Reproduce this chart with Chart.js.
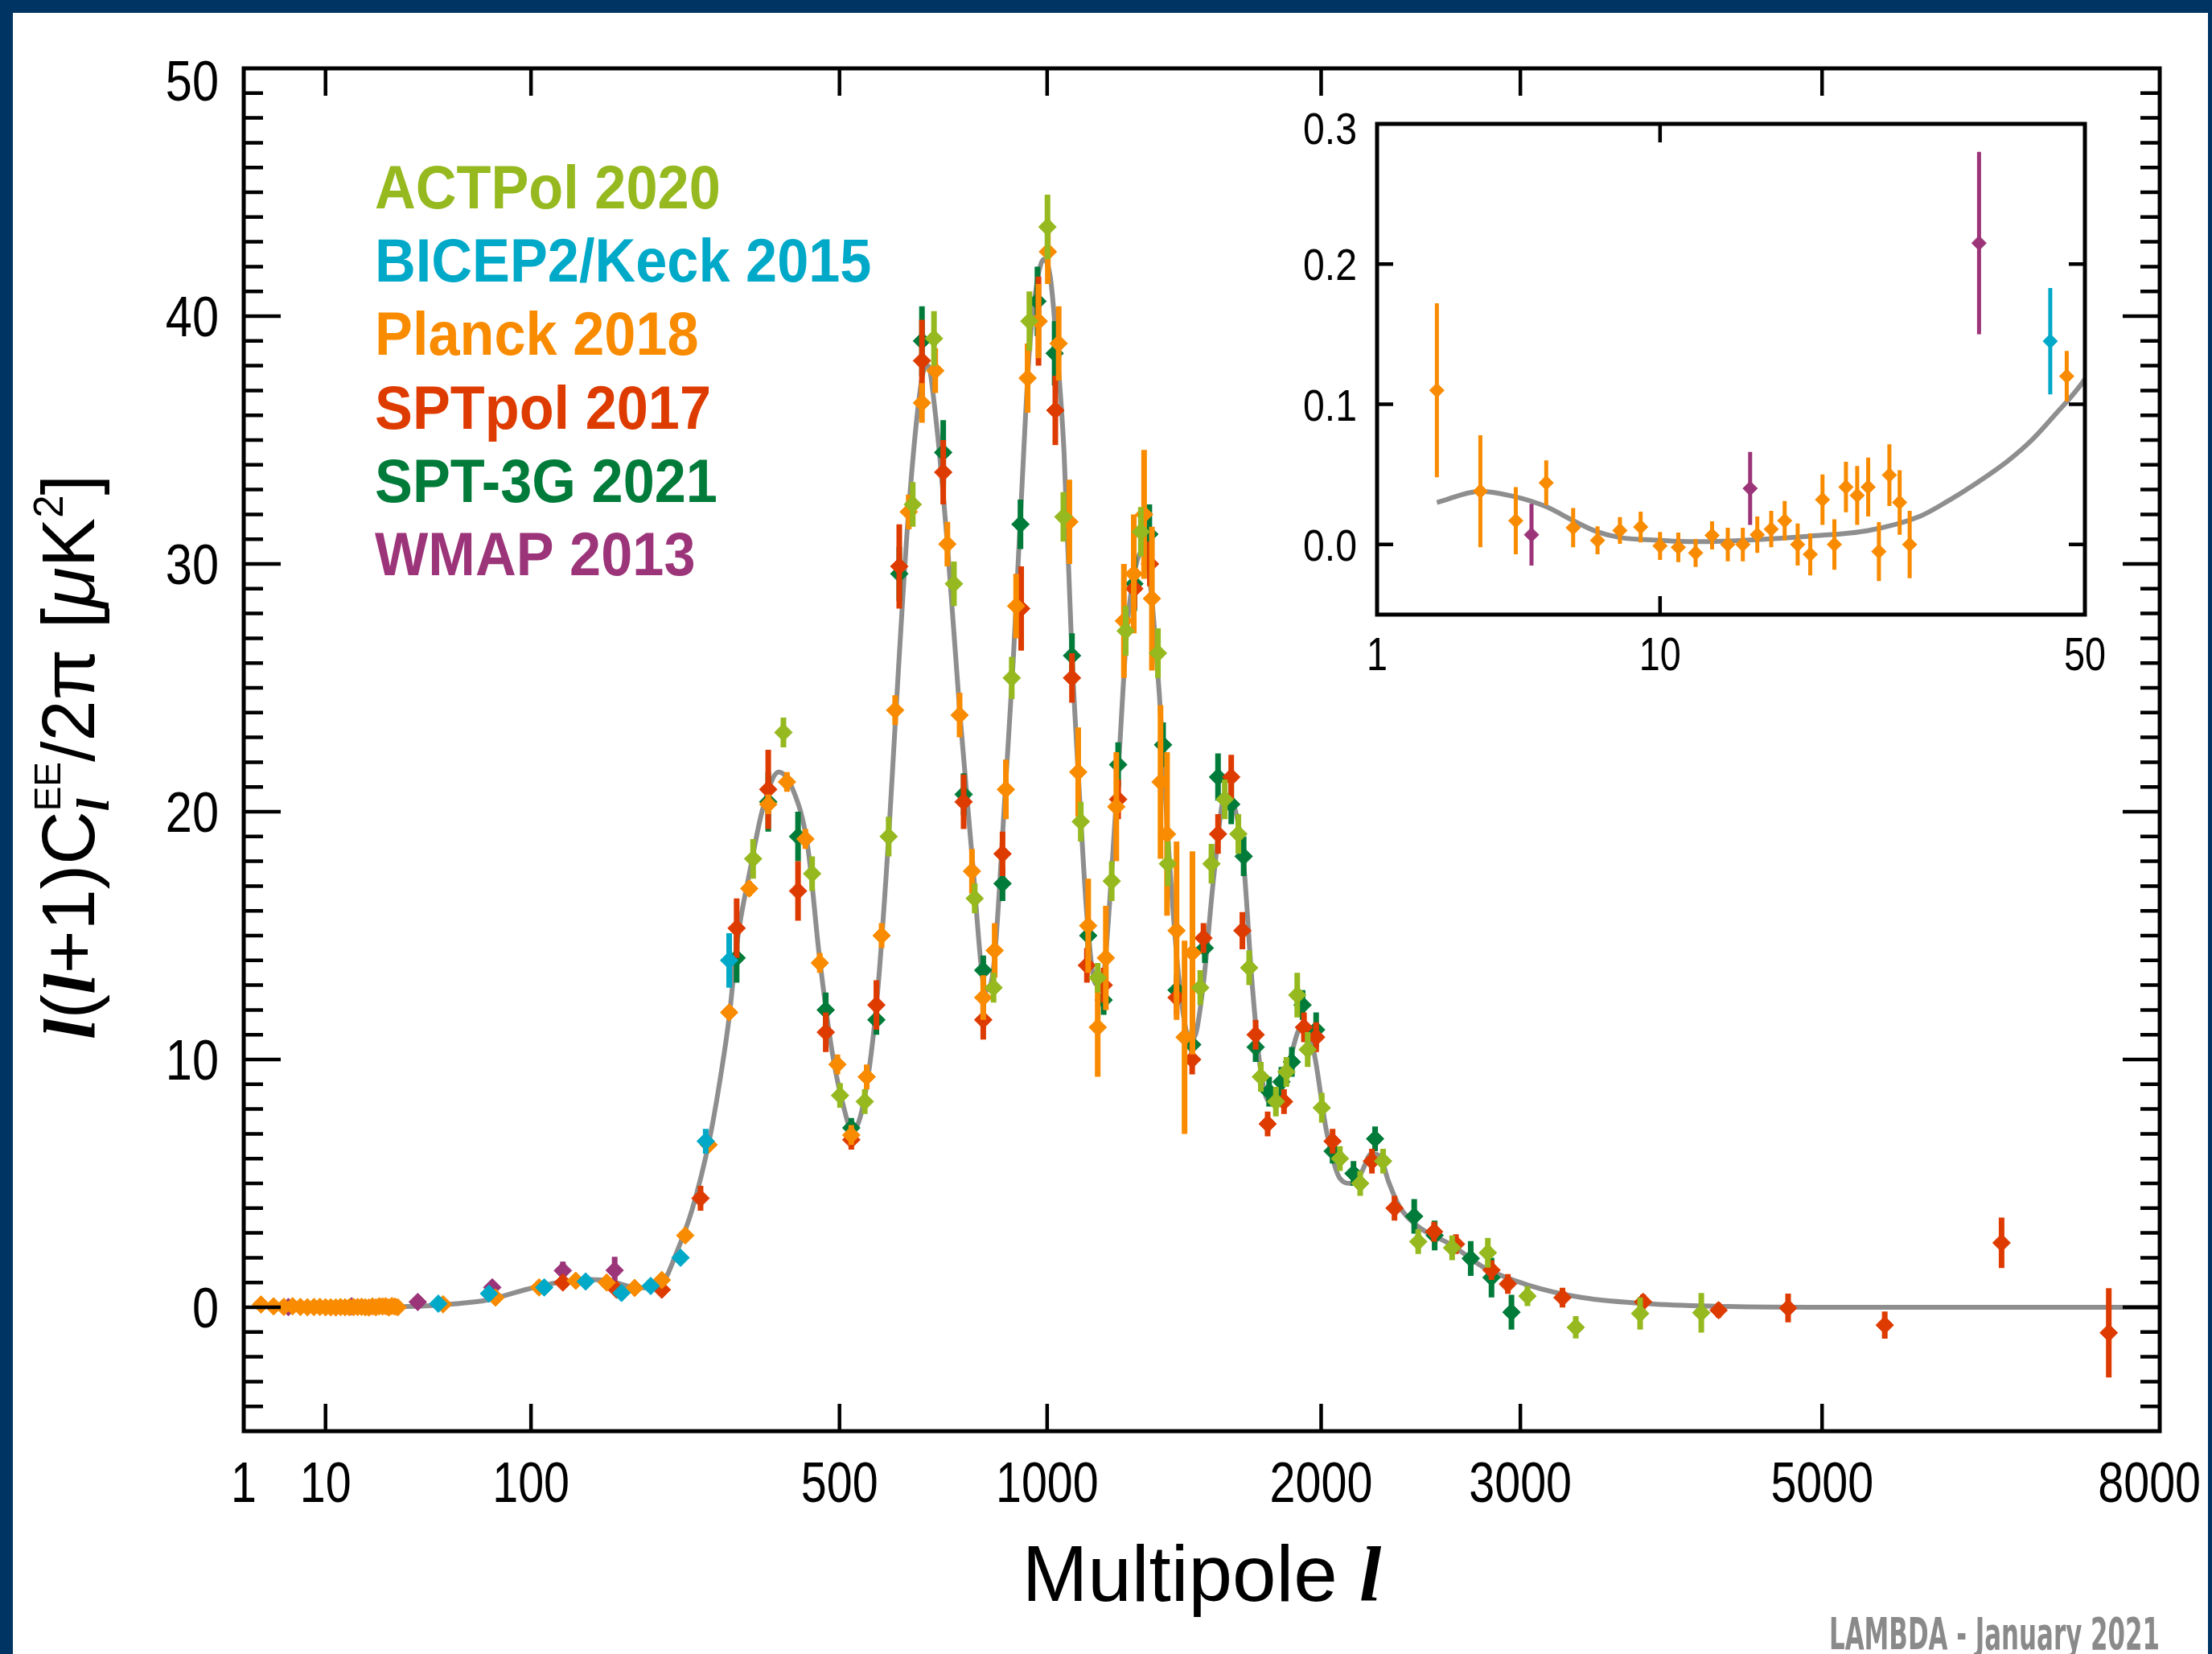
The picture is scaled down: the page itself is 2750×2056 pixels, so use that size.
<!DOCTYPE html>
<html>
<head>
<meta charset="utf-8">
<title>CMB EE power spectrum</title>
<script src="https://cdn.jsdelivr.net/npm/chart.js@4.4.1/dist/chart.umd.min.js"></script>
<style>
  html, body { margin: 0; padding: 0; background: #003462; overflow: hidden; }
  #sheet { position: absolute; left: 16px; top: 16px; width: 2729px; height: 2040px; background: #fff; }
  #mainCanvas { position: absolute; left: 0; top: 0; }
  #insetCanvas { position: absolute; left: 1560px; top: 100px; }
</style>
</head>
<body>
<div id="sheet"></div>
<canvas id="mainCanvas" width="2750" height="2056"></canvas>
<canvas id="insetCanvas" width="1100" height="780"></canvas>
<script>
// values (multipole l, D_l in uK^2, 1-sigma error)

const theoryL = [2,3,4,5,6,7,8,10,12,15,20,25,30,33,36,40,43,46,50,71,98,130,150,169,194,212,230,238,263,286,303,314,326,
  345,365,391,415,441,462,486,509,525,550,576,600,614,644,674,688,705,734,764,798,822,835,853,882,904,926,949,970,990,1010,
  1026,1050,1074,1099,1120,1145,1160,1175,1192,1223,1250,1275,1300,1327,1360,1392,1431,1470,1490,1520,
  1560,1601,1630,1675,1707,1740,1778,1810,1850,1919,1966,2024,2084,2134,2180,2230,2270,2310,2362,2450,
  2630,2800,3042,3355,3809,4314,5000,6000,7000,8000];
const theoryD = [0.030,0.038,0.034,0.027,0.017,0.009,0.005,0.003,0.002,0.003,0.006,0.010,0.020,0.031,0.043,0.060,0.075,0.093,0.118,0.29,0.74,1.07,1.12,
  1.05,0.8,0.78,1.2,1.8,3.96,6.75,9.55,11.7,14.8,17.6,20.1,21.6,20.9,18.6,14.2,10.3,8.0,7.1,8.5,
  12.6,19.0,23.5,32.2,37.5,38.0,36.1,30.8,24.1,17.7,13.3,12.8,14.0,20.8,26.1,32.5,38.6,41.3,42.3,41.5,
  39.1,34.5,26.3,20.2,15.8,13.1,13.0,13.6,16.3,22.2,27.5,29.7,30.5,29.3,24.7,18.6,13.1,10.8,11.0,13.1,
  17.5,20.6,20.4,17.9,13.3,9.8,8.3,8.4,9.5,11.4,10.4,7.1,5.2,5.0,5.4,6.2,6.1,5.1,4.1,3.3,
  2.5,1.6,0.9,0.4,0.13,0.03,0.0,0.0,0.0,0.0];

const planckL = [2,3,4,5,6,7,8,9,10,11,12,13,14,15,16,17,18,19,20,21,22,23,24,25,26,27,28,29,
  47.5,76,106,136,165,194,225,254,285,314,344,374,405,437,463,496,523,554,585,614,
  644,674,705,734,764,795,824,854,884,912,944,975,1002,1034,1066,1093,1124,1154,1180,1214,
  1239,1272,1307,1334,1364,1387,1421,1450,1479];
const planckD = [0.110,0.038,0.017,0.044,0.012,0.003,0.010,0.0125,-0.001,-0.002,-0.006,0.0065,0.000,0.000,0.007,0.011,0.017,0.000,-0.007,0.032,
  0.000,0.041,0.035,0.041,-0.005,0.0495,0.030,0.000,
  0.120,0.39,0.80,1.07,1.0,0.78,1.1,2.9,6.56,11.9,16.9,20.3,21.2,18.9,13.9,9.8,6.95,9.3,15.0,24.1,
  32.1,36.5,37.8,30.8,23.9,17.6,12.5,14.4,20.9,28.3,37.5,39.8,42.6,38.9,31.7,21.6,15.4,11.3,14.1,20.2,
  27.7,29.6,32.0,28.6,21.2,19.1,15.2,10.9,14.3];
const planckErr = [0.062,0.040,0.024,0.016,0.014,0.010,0.0095,0.011,0.010,0.0105,0.010,0.010,0.012,0.012,0.013,0.013,0.014,0.015,0.015,0.018,
  0.018,0.018,0.021,0.021,0.021,0.022,0.023,0.024,
  0.018,0.05,0.05,0.06,0.06,0.06,0.07,0.1,0.15,0.2,0.3,0.4,0.4,0.4,0.4,0.4,0.4,0.5,0.5,0.6,
  0.7,0.8,0.9,0.9,0.9,0.9,0.9,1.1,1.2,1.3,1.4,1.5,1.3,1.5,1.7,1.8,1.9,2.0,2.1,2.2,
  2.3,2.4,2.6,2.9,3.1,3.3,3.6,3.9,4.1];

const actL = [350,399,449,501,550,600,653,702,750,802,851,900,949,1001,1048,1101,1154,1199,1245,1296,
  1355,1390,1508,1550,1601,1654,1697,1744,1806,1850,1896,1941,2003,2084,2177,2285,2457,2630,2820,3040,
  3322,3721,4126];
const actD = [18.1,23.2,17.5,8.55,8.3,19.0,32.4,39.1,29.2,16.5,12.9,25.4,39.8,43.6,31.9,19.6,13.3,17.2,27.3,31.3,
  26.4,17.9,12.9,17.9,20.5,19.1,13.7,9.3,8.3,9.5,12.6,10.4,8.05,6.0,5.0,5.9,2.65,2.4,2.2,0.45,
  -0.81,-0.25,-0.22];
const actErr = [0.8,0.6,0.7,0.5,0.5,0.8,0.9,1.1,0.9,0.6,0.6,0.85,1.2,1.3,1.0,0.8,0.6,0.8,1.0,1.0,
  1.0,0.9,0.7,0.8,0.8,0.8,0.7,0.6,0.6,0.6,0.9,0.7,0.6,0.5,0.5,0.5,0.5,0.5,0.6,0.4,
  0.45,0.65,0.8];

const sptpolL = [125,175,225,274,325,374,424,474,523,574,623,674,724,774,824,875,926,975,1024,1074,
  1120,1173,1220,1274,1327,1421,1478,1520,1575,1626,1670,1723,1772,1840,1925,1978,2051,2232,2340,2537,
  2650,2840,2930,3243,3740,4245,4744,5494,6490,7493];
const sptpolD = [1.0,0.71,0.71,4.4,15.3,20.9,16.8,11.1,6.76,12.2,29.9,38.2,33.7,20.4,11.6,18.3,28.2,39.8,36.2,25.4,
  13.8,13.0,20.5,29.0,30.0,12.5,10.0,14.9,19.1,21.4,15.2,11.0,7.4,8.3,11.3,10.9,6.7,5.9,4.0,3.05,
  2.55,1.5,0.94,0.39,0.22,-0.12,-0.03,-0.72,2.6,-1.03];
const sptpolErr = [0.15,0.15,0.15,0.5,1.2,1.6,1.2,0.8,0.4,1.0,1.7,1.65,1.3,1.1,0.8,0.9,1.7,1.8,1.4,1.0,
  0.7,0.7,0.8,0.8,0.9,0.7,0.6,0.6,0.8,0.9,0.75,0.6,0.5,0.5,0.6,0.6,0.5,0.5,0.5,0.4,
  0.4,0.4,0.4,0.4,0.3,0.3,0.58,0.55,1.02,1.8];

const spt3gL = [325,374,424,474,523,574,623,674,724,774,824,875,924,972,1022,1074,1124,1173,1220,1274,
  1325,1373,1421,1478,1525,1575,1626,1675,1723,1778,1829,1873,1919,1978,2051,2146,2247,2437,2540,2728,
  2840,2950];
const spt3gD = [14.1,20.4,19.0,12.0,7.24,11.6,29.6,39.0,34.5,20.7,13.6,17.1,31.6,40.6,38.5,26.3,15.0,12.4,21.9,29.2,
  31.2,22.7,12.8,10.6,14.5,21.4,20.3,18.2,10.5,8.7,9.1,9.9,12.2,11.2,6.3,5.4,6.8,3.67,2.9,1.97,
  1.2,-0.2];
const spt3gErr = [1.0,1.2,1.0,0.7,0.4,0.6,1.1,1.4,1.3,0.85,0.6,0.7,1.0,1.4,1.3,0.9,0.65,0.6,0.9,1.1,
  1.2,0.9,0.6,0.6,0.6,0.95,0.8,0.8,0.6,0.6,0.6,0.6,0.6,0.7,0.5,0.5,0.5,0.7,0.6,0.7,
  0.8,0.7];

const bicepL = [45.3,72,110,145,180,212,248,281,314];
const bicepD = [0.145,0.55,0.8,1.04,0.58,0.86,2.0,6.7,14.0];
const bicepErr = [0.038,0.1,0.1,0.1,0.1,0.12,0.2,0.5,1.1];

const wmapL = [4.5,15.5,36.5,74,125,173];
const wmapD = [0.007,0.040,0.215,0.8,1.48,1.49];
const wmapErr = [0.022,0.026,0.065,0.2,0.36,0.55];

const mainXTicks = [1, 10, 100, 500, 1000, 2000, 3000, 5000, 8000];
const mainYTicks = [0, 10, 20, 30, 40, 50];
const insetXTicks = [1, 10, 50];
const insetYTicks = [0, 0.1, 0.2, 0.3];

const series = [
  { name: 'ACTPol 2020',      color: '#95b91e', l: actL,    d: actD,    e: actErr },
  { name: 'BICEP2/Keck 2015', color: '#00a9c8', l: bicepL,  d: bicepD,  e: bicepErr },
  { name: 'Planck 2018',      color: '#f98b00', l: planckL, d: planckD, e: planckErr },
  { name: 'SPTpol 2017',      color: '#de3b00', l: sptpolL, d: sptpolD, e: sptpolErr },
  { name: 'SPT-3G 2021',      color: '#017b39', l: spt3gL,  d: spt3gD,  e: spt3gErr },
  { name: 'WMAP 2013',        color: '#9c3479', l: wmapL,   d: wmapD,   e: wmapErr }
];

const NARROW = "'Liberation Sans Narrow', 'DejaVu Sans Condensed', 'Liberation Sans', sans-serif";
const SANS = "'Liberation Sans', Arial, sans-serif";
const SERIF = "'Liberation Serif', 'Times New Roman', serif";

// the plot's multipole axis is stretched like l^0.4
const POW = 0.4;
class PowerScale extends Chart.LinearScale {
  buildTicks() { return []; }
  configure() {
    super.configure();
    this._p0 = Math.pow(this.min, POW);
    this._pr = Math.pow(this.max, POW) - this._p0;
  }
  getPixelForValue(v) {
    return this.getPixelForDecimal((Math.pow(Math.max(v, 0), POW) - this._p0) / this._pr);
  }
  getValueForPixel(px) {
    return Math.pow(this.getDecimalForPixel(px) * this._pr + this._p0, 1 / POW);
  }
}
PowerScale.id = 'power';
PowerScale.defaults = {};
Chart.register(PowerScale);

function makeDatasets(radius) {
  const sets = series.map(s => ({
    label: s.name,
    data: s.l.map((l, i) => ({ x: l, y: s.d[i] })),
    err: s.e,
    showLine: false,
    pointStyle: 'rectRot',
    pointRadius: radius,
    pointBorderWidth: 1,
    backgroundColor: s.color,
    borderColor: s.color
  }));
  sets.push({
    label: 'theory',
    data: theoryL.map((l, i) => ({ x: l, y: theoryD[i] })),
    showLine: true,
    borderColor: '#8e8e8e',
    borderWidth: 6,
    pointRadius: 0,
    cubicInterpolationMode: 'monotone',
    fill: false
  });
  return sets;
}

function errorBarPlugin(width) {
  return {
    id: 'errorBars',
    beforeDatasetDraw(chart, args) {
      const ds = chart.data.datasets[args.index];
      if (!ds.err) return;
      const { ctx, chartArea: a, scales } = chart;
      ctx.save();
      ctx.beginPath();
      ctx.rect(a.left, a.top, a.width, a.height);
      ctx.clip();
      ctx.strokeStyle = ds.borderColor;
      ctx.lineWidth = width;
      ctx.beginPath();
      ds.data.forEach((p, i) => {
        const px = scales.x.getPixelForValue(p.x);
        ctx.moveTo(px, scales.y.getPixelForValue(p.y + ds.err[i]));
        ctx.lineTo(px, scales.y.getPixelForValue(p.y - ds.err[i]));
      });
      ctx.stroke();
      ctx.restore();
    }
  };
}

// box frame with inward ticks on all four sides, plus narrow tick labels
function framePlugin(cfg) {
  return {
    id: 'frame',
    afterDatasetsDraw(chart) {
      const { ctx, chartArea: a, scales: { x, y } } = chart;
      ctx.save();
      ctx.strokeStyle = '#000';
      ctx.lineWidth = cfg.tickWidth;
      ctx.beginPath();
      cfg.xTicks.forEach(v => {
        const px = x.getPixelForValue(v);
        ctx.moveTo(px, a.bottom); ctx.lineTo(px, a.bottom - cfg.xLen);
        ctx.moveTo(px, a.top); ctx.lineTo(px, a.top + cfg.xLen);
      });
      const yTick = (v, len) => {
        const py = y.getPixelForValue(v);
        ctx.moveTo(a.left, py); ctx.lineTo(a.left + len, py);
        ctx.moveTo(a.right, py); ctx.lineTo(a.right - len, py);
      };
      cfg.yMajor.forEach(v => yTick(v, cfg.yMajorLen));
      cfg.yMinor.forEach(v => yTick(v, cfg.yMinorLen));
      ctx.stroke();
      ctx.lineWidth = cfg.frameWidth;
      ctx.strokeRect(a.left, a.top, a.width, a.height);

      // tick labels, horizontally squeezed like Helvetica Narrow
      ctx.fillStyle = '#000';
      ctx.textBaseline = 'alphabetic';
      const L = cfg.labels;
      ctx.font = L.xSize + 'px ' + SANS;
      L.xValues.forEach(v => {
        const t = L.xFmt(v);
        const w = ctx.measureText(t).width * L.sx;
        let cx = x.getPixelForValue(v);
        cx = Math.min(cx, chart.width - L.rightLimit - w / 2);
        ctx.save();
        ctx.translate(cx - w / 2, a.bottom + L.xBase);
        ctx.scale(L.sx, 1);
        ctx.fillText(t, 0, 0);
        ctx.restore();
      });
      ctx.font = L.ySize + 'px ' + SANS;
      L.yValues.forEach(v => {
        const t = L.yFmt(v);
        const w = ctx.measureText(t).width * L.sy;
        const cy = Math.max(y.getPixelForValue(v), a.top + L.topShift);
        ctx.save();
        ctx.translate(a.left - L.yGap - w, cy + L.ySize * 0.358);
        ctx.scale(L.sy, 1);
        ctx.fillText(t, 0, 0);
        ctx.restore();
      });
      ctx.restore();
    }
  };
}

function layoutRich(ctx, parts) {
  let x = 0, hold = 0;
  const items = [];
  parts.forEach(p => {
    ctx.font = p.font;
    const w = ctx.measureText(p.t).width;
    items.push({ p, x });
    if (p.keep) hold = Math.max(hold, w);
    else { x += Math.max(hold, w); hold = 0; }
  });
  return { items, width: x };
}

function drawRich(ctx, parts, cx, baseline) {
  const lay = layoutRich(ctx, parts);
  const x0 = cx - lay.width / 2;
  ctx.textAlign = 'left';
  ctx.textBaseline = 'alphabetic';
  lay.items.forEach(it => {
    ctx.font = it.p.font;
    ctx.fillText(it.p.t, x0 + it.x, baseline + (it.p.dy || 0));
  });
}

const labelsPlugin = {
  id: 'labels',
  afterDraw(chart) {
    const { ctx, chartArea: a } = chart;
    ctx.save();

    // legend: coloured names only
    ctx.font = 'bold 76px ' + SANS;
    ctx.textBaseline = 'alphabetic';
    ctx.textAlign = 'left';
    series.forEach((s, i) => {
      ctx.save();
      ctx.translate(a.left + 163, a.top + 174 + i * 91.2);
      ctx.scale(0.925, 1);
      ctx.fillStyle = s.color;
      ctx.fillText(s.name, 0, 0);
      ctx.restore();
    });

    // x title
    ctx.fillStyle = '#000';
    const F = 98;
    drawRich(ctx, [
      { t: 'Multipole ', font: F + 'px ' + SANS },
      { t: 'l', font: 'bold italic ' + F + 'px ' + SERIF }
    ], (a.left + a.right) / 2, a.bottom + 211);

    // y title, rotated
    const G = 92;
    const sans = G + 'px ' + SANS;
    const ell = 'bold italic ' + G + 'px ' + SERIF;
    ctx.save();
    ctx.translate(117, (a.top + a.bottom) / 2 + 9);
    ctx.rotate(-Math.PI / 2);
    drawRich(ctx, [
      { t: 'l', font: ell },
      { t: '(', font: sans },
      { t: 'l', font: ell },
      { t: '+1)C', font: sans },
      { t: 'EE', font: Math.round(G * 0.5) + 'px ' + SANS, dy: -G * 0.46, keep: true },
      { t: 'l', font: 'bold italic ' + Math.round(G * 0.62) + 'px ' + SERIF, dy: G * 0.2 },
      { t: '/2π [', font: sans },
      { t: 'μ', font: 'italic ' + sans },
      { t: 'K', font: sans },
      { t: '2', font: Math.round(G * 0.55) + 'px ' + SANS, dy: -G * 0.42 },
      { t: ']', font: sans }
    ], 0, 0);
    ctx.restore();

    // stamp
    const stamp = 'LAMBDA - January 2021';
    ctx.font = 'bold 56px ' + NARROW;
    const w = ctx.measureText(stamp).width;
    ctx.save();
    ctx.translate(a.right - 411, 2050);
    ctx.scale(411 / w, 1);
    ctx.fillStyle = '#8a8a8a';
    ctx.fillText(stamp, 0, 0);
    ctx.restore();

    ctx.restore();
  }
};

const yMinorMain = [];
for (let v = -4; v < 50; v++) if (v % 10 !== 0) yMinorMain.push(v);

const hiddenTicks = { display: false };

new Chart(document.getElementById('mainCanvas'), {
  type: 'scatter',
  data: { datasets: makeDatasets(11) },
  options: {
    responsive: false,
    animation: false,
    devicePixelRatio: 1,
    layout: { padding: { left: 0, right: 65, top: 85, bottom: 0 } },
    plugins: { legend: { display: false }, tooltip: { enabled: false } },
    scales: {
      x: {
        type: 'power', min: 1, max: 8000,
        afterBuildTicks: s => { s.ticks = mainXTicks.map(v => ({ value: v })); },
        afterFit: s => { s.height = 277; s.paddingLeft = 0; s.paddingRight = 0; },
        grid: { display: false, drawTicks: false },
        border: { display: false },
        ticks: hiddenTicks
      },
      y: {
        type: 'linear', min: -5, max: 50,
        afterBuildTicks: s => { s.ticks = mainYTicks.map(v => ({ value: v })); },
        afterFit: s => { s.width = 303; s.paddingTop = 0; s.paddingBottom = 0; },
        grid: { display: false, drawTicks: false },
        border: { display: false },
        ticks: hiddenTicks
      }
    }
  },
  plugins: [
    errorBarPlugin(7),
    framePlugin({ xTicks: [10, 100, 500, 1000, 2000, 3000, 5000], xLen: 34,
                  yMajor: [0, 10, 20, 30, 40], yMajorLen: 46, yMinor: yMinorMain, yMinorLen: 24,
                  tickWidth: 4.5, frameWidth: 5,
                  labels: { xValues: mainXTicks, xFmt: v => String(v), xSize: 70, sx: 0.82, xBase: 88, rightLimit: 14,
                            yValues: mainYTicks, yFmt: v => String(v), ySize: 70, sy: 0.85, yGap: 31, topShift: 15 } }),
    labelsPlugin
  ]
});

new Chart(document.getElementById('insetCanvas'), {
  type: 'scatter',
  data: { datasets: makeDatasets(9) },
  options: {
    responsive: false,
    animation: false,
    devicePixelRatio: 1,
    layout: { padding: { left: 0, right: 68, top: 54, bottom: 0 } },
    plugins: { legend: { display: false }, tooltip: { enabled: false } },
    scales: {
      x: {
        type: 'power', min: 1, max: 50,
        afterBuildTicks: s => { s.ticks = insetXTicks.map(v => ({ value: v })); },
        afterFit: s => { s.height = 116; s.paddingLeft = 0; s.paddingRight = 0; },
        grid: { display: false, drawTicks: false },
        border: { display: false },
        ticks: hiddenTicks
      },
      y: {
        type: 'linear', min: -0.05, max: 0.3,
        afterBuildTicks: s => { s.ticks = insetYTicks.map(v => ({ value: v })); },
        afterFit: s => { s.width = 152; s.paddingTop = 0; s.paddingBottom = 0; },
        grid: { display: false, drawTicks: false },
        border: { display: false },
        ticks: hiddenTicks
      }
    }
  },
  plugins: [
    errorBarPlugin(5),
    framePlugin({ xTicks: [10], xLen: 23, yMajor: [0, 0.1, 0.2], yMajorLen: 20, yMinor: [], yMinorLen: 0,
                  tickWidth: 4.5, frameWidth: 5,
                  labels: { xValues: insetXTicks, xFmt: v => String(v), xSize: 57, sx: 0.82, xBase: 69, rightLimit: 0,
                            yValues: insetYTicks, yFmt: v => v.toFixed(1), ySize: 56, sy: 0.86, yGap: 25, topShift: 5 } })
  ]
});
</script>
</body>
</html>
